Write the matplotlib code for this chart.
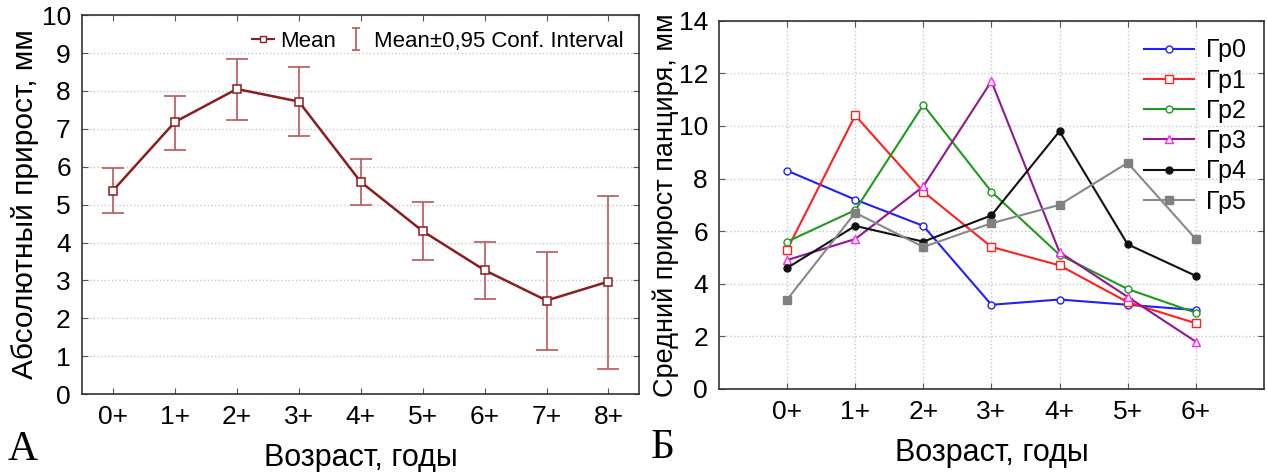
import numpy as np
import matplotlib.pyplot as plt
from matplotlib.lines import Line2D
from matplotlib.path import Path

plt.rcParams['font.family'] = ['Liberation Sans', 'DejaVu Sans']

# панель А
ages_a = ["0+", "1+", "2+", "3+", "4+", "5+", "6+", "7+", "8+"]
mean_a = [5.37, 7.18, 8.05, 7.72, 5.60, 4.30, 3.27, 2.47, 2.97]
ci_low = [4.77, 6.45, 7.23, 6.80, 5.00, 3.55, 2.52, 1.17, 0.67]
ci_high = [5.97, 7.87, 8.85, 8.62, 6.20, 5.06, 4.02, 3.74, 5.23]

# панель Б
ages_b = ["0+", "1+", "2+", "3+", "4+", "5+", "6+"]
gr0 = [8.3, 7.2, 6.2, 3.2, 3.4, 3.2, 3.0]
gr1 = [5.3, 10.4, 7.5, 5.4, 4.7, 3.3, 2.5]
gr2 = [5.6, 6.8, 10.8, 7.5, 5.1, 3.8, 2.9]
gr3 = [4.9, 5.7, 7.7, 11.7, 5.2, 3.5, 1.8]
gr4 = [4.6, 6.2, 5.6, 6.6, 9.8, 5.5, 4.3]
gr5 = [3.4, 6.7, 5.4, 6.3, 7.0, 8.6, 5.7]

fig = plt.figure(figsize=(12.67, 4.72), dpi=100)
ax1 = fig.add_axes([0.0647, 0.165, 0.440, 0.803])
ax2 = fig.add_axes([0.5675, 0.176, 0.430, 0.780])

for ax in (ax1, ax2):
    ax.tick_params(direction='in', top=True, right=True, labelsize=19, length=4,
                   color='#555555', pad=8)
    for s in ax.spines.values():
        s.set_color('#333333')
        s.set_linewidth(1.2)
    ax.set_axisbelow(True)

# --- А
xa = np.arange(len(ages_a))
m = np.array(mean_a)
err = [m - np.array(ci_low), np.array(ci_high) - m]
ax1.grid(axis='y', linestyle=':', color='#c8c8c8', linewidth=1)
ax1.errorbar(xa, m, yerr=err, fmt='none', ecolor='#b85a5a', elinewidth=1.2, capsize=8, capthick=1.2)
ax1.plot(xa, m, color='#8b1e1e', linewidth=1.8, marker='s', markersize=6,
         markerfacecolor='white', markeredgecolor='#8b1e1e', markeredgewidth=1.1)
ax1.set_xlim(-0.5, 8.5)
ax1.set_ylim(0, 10)
ax1.set_yticks(range(0, 11))
ax1.set_xticks(xa)
ax1.set_xticklabels(ages_a)
ax1.set_ylabel("Абсолютный прирост, мм", fontsize=21.5, va='center')
ax1.yaxis.set_label_coords(-0.102, 0.5)
ax1.set_xlabel("Возраст, годы", fontsize=22, labelpad=10)

# значок доверительного интервала в легенде
ibar = Path([(-0.4, -1), (0.4, -1), (0, -1), (0, 1), (-0.4, 1), (0.4, 1)],
            [Path.MOVETO, Path.LINETO, Path.MOVETO, Path.LINETO, Path.MOVETO, Path.LINETO])
h_mean = Line2D([], [], color='#8b1e1e', linewidth=1.5, marker='s', markersize=5,
                markerfacecolor='white', markeredgecolor='#8b1e1e')
h_ci = Line2D([], [], linestyle='none', marker=ibar, markersize=16, markerfacecolor='none',
              markeredgecolor='#b85a5a', markeredgewidth=1.2)
ax1.legend([h_mean, h_ci], ["Mean", "Mean±0,95 Conf. Interval"], ncol=2, loc='upper right',
           frameon=False, fontsize=16, handlelength=1.0, handletextpad=0.3, columnspacing=0.4,
           borderaxespad=0.3)

# --- Б
xb = np.arange(len(ages_b))
ax2.grid(linestyle=':', color='#c8c8c8', linewidth=1)
ax2.plot(xb, gr0, color='#2020ff', lw=1.5, marker='o', ms=5, mfc='white', mec='#2020ff', label="Гр0")
ax2.plot(xb, gr1, color='#ff2020', lw=1.5, marker='s', ms=6, mfc='white', mec='#ff2020', label="Гр1")
ax2.plot(xb, gr2, color='#1f9a1f', lw=1.5, marker='o', ms=5, mfc='white', mec='#1f9a1f', label="Гр2")
ax2.plot(xb, gr3, color='#8e1a8e', lw=1.5, marker='^', ms=6, mfc='white', mec='#ff22ff', label="Гр3")
ax2.plot(xb, gr4, color='#111111', lw=1.5, marker='o', ms=5, mfc='#111111', mec='#111111', label="Гр4")
ax2.plot(xb, gr5, color='#888888', lw=1.5, marker='s', ms=6, mfc='#808080', mec='#808080', label="Гр5")
ax2.set_xlim(-1, 7)
ax2.set_ylim(0, 14)
ax2.set_yticks(range(0, 15, 2))
ax2.set_xticks(xb)
ax2.set_xticklabels(ages_b)
ax2.set_ylabel("Средний прирост панциря, мм", fontsize=19.5, va='center')
ax2.yaxis.set_label_coords(-0.097, 0.5)
ax2.set_xlabel("Возраст, годы", fontsize=22, labelpad=10)
ax2.legend(loc='upper right', frameon=False, fontsize=18, handlelength=2.0,
           handletextpad=0.5, labelspacing=0.25, borderaxespad=0.3)

fig.text(0.006, 0.025, "А", fontsize=30, family='Liberation Serif')
fig.text(0.514, 0.03, "Б", fontsize=30, family='Liberation Serif')

fig.savefig("out.png", dpi=100)
